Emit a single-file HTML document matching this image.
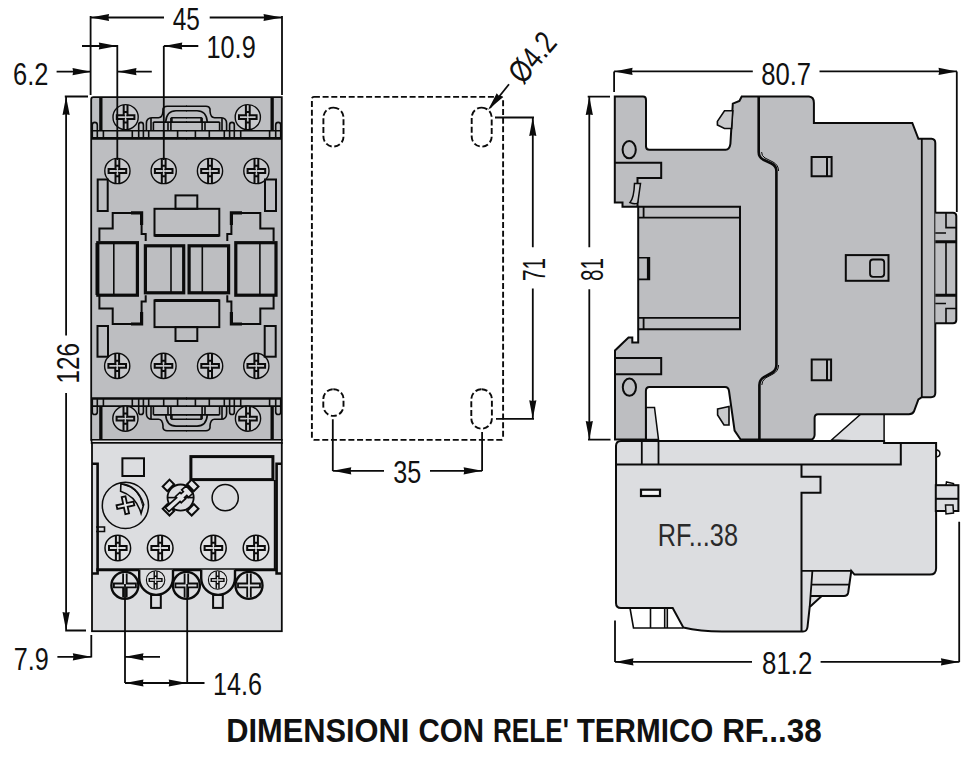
<!DOCTYPE html>
<html><head><meta charset="utf-8">
<style>
html,body{margin:0;padding:0;background:#fff;}
svg{display:block;}
text{font-family:"Liberation Sans",sans-serif;}
</style></head>
<body>
<svg width="975" height="778" viewBox="0 0 975 778">
<defs>
<g id="scr">
<circle r="12.6" fill="#c8c9cc" stroke="#0b0b0b" stroke-width="1.4"/>
<path d="M-1.9,-12.2 V-1.9 H-8.8 V1.9 H-1.9 V12.2 M1.9,-12.2 V-1.9 H8.8 V1.9 H1.9 V12.2 M-1.9,-5.2 H1.9 M-1.9,5.2 H1.9" fill="none" stroke="#0b0b0b" stroke-width="2"/>
<path d="M-1,-1 L-2.4,-2.4 M1,-1 L2.4,-2.4 M-1,1 L-2.4,2.4 M1,1 L2.4,2.4" stroke="#0b0b0b" stroke-width="1.2"/>
</g>
<g id="scr2">
<circle r="12.8" fill="#e0e1e3" stroke="#0b0b0b" stroke-width="1.5"/>
<path d="M-1.9,-12.2 V-1.9 H-8.8 V1.9 H-1.9 V12.2 M1.9,-12.2 V-1.9 H8.8 V1.9 H1.9 V12.2 M-1.9,-5.2 H1.9 M-1.9,5.2 H1.9" fill="none" stroke="#0b0b0b" stroke-width="2"/>
<path d="M-1,-1 L-2.4,-2.4 M1,-1 L2.4,-2.4 M-1,1 L-2.4,2.4 M1,1 L2.4,2.4" stroke="#0b0b0b" stroke-width="1.2"/>
</g>
<path id="ah" d="M0,0 L18.5,-3.6 L17.8,0 L18.5,3.6 Z" fill="#0b0b0b"/>
</defs>
<rect width="975" height="778" fill="#fff"/>

<!-- ================= FRONT VIEW ================= -->
<g id="front" stroke="#0b0b0b" fill="none">
<!-- relay body -->
<rect x="92" y="442.8" width="189.8" height="188.4" fill="#dcdde0" stroke-width="1.8"/>
<!-- contactor body -->
<path d="M91.2,439.9 V99.5 Q91.2,97.2 93.5,97.2 H281.8 V439.9 Z" fill="#bdbec1" stroke-width="1.8"/>
<path d="M92,441.4 H281" stroke="#e4e4e6" stroke-width="1.4"/><path d="M281.9,439 V444 M91.6,439 V444" stroke-width="1.6"/>

<!-- top terminal block half -->
<g id="tbh">
<path d="M91,130.8 H187" stroke-width="1.6"/>
<path d="M91,138.4 H187" stroke-width="2.6"/>
<rect x="99.2" y="97.5" width="3.3" height="33.3" fill="#0b0b0b" stroke="none"/>
<path d="M92.3,138 V124.7 Q92.3,122.4 94.8,122.4 Q97.3,122.4 97.3,125 V138" stroke-width="1.6"/>
<path d="M138.7,138 V124.7 Q138.7,122.4 141,122.4 Q143.4,122.4 143.4,125 V138" stroke-width="1.6"/>
<path d="M103.4,130.8 V138.4 M132.3,130.8 V138.4 M148.7,130.8 V138.4 M163.7,130.8 V138.4 M177.6,130.8 V138.4" stroke-width="1.6"/>
<path d="M146.4,131 V123.5 Q146.4,117.7 152,117.7 H158.5 Q162.5,117.7 163,111 V109 Q163.6,106.2 167,106.2 H187" stroke-width="1.6"/>
<path d="M165.7,122 Q166.5,110.8 176,110.8 H187" stroke-width="1.6"/>
<path d="M153.4,122.1 H187" stroke-width="1.8"/>
<path d="M171.9,122.1 V117.7 H187" stroke-width="1.6"/>
<path d="M151,117.7 V130.8 M153.4,122.1 V130.8 M168,122.1 V130.8 M170.9,117.7 V130.8" stroke-width="1.6"/>
</g>
<use href="#tbh" transform="translate(373,0) scale(-1,1)"/>
<g transform="translate(0,536.9) scale(1,-1)">
<use href="#tbh"/>
<use href="#tbh" transform="translate(373,0) scale(-1,1)"/>
</g>
<use href="#scr" transform="translate(125.6,117.2)"/>
<use href="#scr" transform="translate(247.8,117.2)"/>
<use href="#scr" transform="translate(125.4,418.6)"/>
<use href="#scr" transform="translate(248,418.6)"/>

<!-- screws rows -->
<use href="#scr" transform="translate(117.4,171)"/>
<use href="#scr" transform="translate(163.7,171)"/>
<use href="#scr" transform="translate(210,171)"/>
<use href="#scr" transform="translate(256.4,171)"/>
<use href="#scr" transform="translate(117.2,365.9)"/>
<use href="#scr" transform="translate(163.5,365.9)"/>
<use href="#scr" transform="translate(210.1,365.9)"/>
<use href="#scr" transform="translate(256.3,365.9)"/>

<!-- small vertical rects -->
<g stroke-width="2">
<rect x="97.7" y="179.5" width="10" height="31.5"/>
<rect x="265" y="179.5" width="11" height="31.5"/>
<rect x="97.5" y="326" width="10.5" height="30.7"/>
<rect x="264.7" y="326" width="11" height="30.7"/>
<!-- center rects -->
<rect x="175.5" y="195.4" width="21.8" height="13.4"/>
<rect x="154.5" y="208.8" width="64.8" height="26.8"/>
<rect x="154.5" y="300.4" width="64.8" height="26.7"/>
<rect x="175.5" y="327.1" width="21.8" height="13.9"/>
</g>
<path d="M154.5,235.6 H219.3 M154.5,300.4 H219.3" stroke-width="3"/>
<!-- armatures -->
<g stroke-width="2">
<path d="M99.4,241.1 V228.4 H112.7 V212.9 H141.6 V233.9 H145.7 V241.1"/>
<path d="M99.4,295.3 V308.5 H112.7 V324 H141.6 V301.4 H145.7 V295.3"/>
<path d="M273.6,241.1 V228.4 H260.3 V212.9 H231.4 V233.9 H227.3 V241.1"/>
<path d="M273.6,295.3 V308.5 H260.3 V324 H231.4 V301.4 H227.3 V295.3"/>
</g>
<path d="M131,212.9 H141.6 V225 M131,324 H141.6 V312 M242,212.9 H231.4 V225 M242,324 H231.4 V312" stroke-width="3.2"/>
<!-- big rects -->
<g stroke-width="3.2">
<rect x="97.8" y="242.7" width="39.6" height="52.5"/>
<rect x="145.4" y="245.8" width="38.3" height="47"/>
<rect x="189.1" y="245.8" width="39.5" height="47"/>
<rect x="235.8" y="242.7" width="40.2" height="52.5"/>
</g>
<path d="M96.3,243 V295 M113.8,242.7 V295.2 M171,245.8 V292.8 M202.3,245.8 V292.8 M259.9,242.7 V295.2" stroke-width="1.6"/>

<!-- ===== relay front details ===== -->
<g stroke-width="2">
<path d="M92,463.7 H97.6 V573.5 H92" stroke-width="2.6"/>
<path d="M281.8,463.7 H276.6 V573.5 H281.8" stroke-width="2.6"/><path d="M274.8,480 V570"/>
<rect x="122.4" y="458.3" width="21.6" height="17.7"/>
<path d="M96,527 H104.5 V531.5 H96" stroke-width="1.6"/>
</g>
<path d="M96.2,569.8 H276.7" stroke-width="3"/>
<rect x="190.9" y="456.6" width="82" height="23" stroke-width="3"/>
<circle cx="125.4" cy="505.4" r="23.1" stroke-width="1.5"/>
<path d="M120.9,483.9 Q137,485 143.7,504.4 L141.1,513.4 Q136,496 120.6,491.2 Z" stroke-width="1.6"/>
<path d="M123,484.6 Q139,487.5 142.8,506" stroke-width="1"/>
<g transform="translate(125.4,505.3) rotate(-12)">
<path d="M-1.9,-8.7 H1.9 V-1.9 H8.7 V1.9 H1.9 V8.7 H-1.9 V1.9 H-8.7 V-1.9 H-1.9 Z" stroke-width="1.8" fill="#e4e5e7"/>
</g>
<g transform="translate(180.6,497.6) rotate(45)">
<rect x="-4.8" y="-20.5" width="9.6" height="6.5" stroke-width="2" fill="#e4e5e7"/>
<rect x="-4.8" y="14" width="9.6" height="6.5" stroke-width="2" fill="#e4e5e7"/>
<rect x="-20.5" y="-4.8" width="6.5" height="9.6" stroke-width="2" fill="#e4e5e7"/>
<rect x="14" y="-4.8" width="6.5" height="9.6" stroke-width="2" fill="#e4e5e7"/>
</g>
<circle cx="180.6" cy="497.6" r="13.1" stroke-width="1.8" fill="#dcdde0"/>
<path d="M167.5,497.6 H193.7" stroke-width="1.6"/>
<g transform="translate(180.6,497.6) rotate(-42)">
<path d="M-18,-2.6 H-3 V-4.2 H3 V-2.6 H6 V-5 H12 V5 H6 V2.6 H3 V4.2 H-3 V2.6 H-18 Z" fill="#e4e5e7" stroke-width="1.7"/>
</g>
<circle cx="225.2" cy="497.7" r="13.1" stroke-width="1.5"/>
<use href="#scr2" transform="translate(117.8,548)"/>
<use href="#scr2" transform="translate(160.2,548)"/>
<use href="#scr2" transform="translate(213.4,548)"/>
<use href="#scr2" transform="translate(256,548)"/>

<!-- bottom terminals -->
<path d="M139.2,569.8 V578 A16.9,16.9 0 0 0 173,578 V569.8 M201.2,569.8 V578 A16.9,16.9 0 0 0 235,578 V569.8" stroke-width="2.4" fill="#dcdde0"/>
<rect x="151.1" y="595" width="9.7" height="12.9" stroke-width="2"/>
<rect x="213.1" y="595" width="9.7" height="12.9" stroke-width="2"/>
<g transform="translate(155.6,580) scale(0.72)"><use href="#scr2"/></g>
<g transform="translate(217.6,580) scale(0.72)"><use href="#scr2"/></g>
<g stroke-width="2.4">
<circle cx="124.9" cy="585.4" r="13.5" fill="#dcdde0"/>
<circle cx="186.4" cy="585.4" r="13.5" fill="#dcdde0"/>
<circle cx="249" cy="585.4" r="13.5" fill="#dcdde0"/>
</g>
<g transform="translate(124.9,585.4)"><path d="M-1.8,-12 V-1.9 H-11 V1.9 H-1.8 V12 M1.8,-12 V-1.9 H11 V1.9 H1.8 V12" stroke-width="1.8"/></g>
<g transform="translate(186.4,585.4)"><path d="M-1.8,-12 V-1.9 H-11 V1.9 H-1.8 V12 M1.8,-12 V-1.9 H11 V1.9 H1.8 V12" stroke-width="1.8"/></g>
<g transform="translate(249,585.4)"><path d="M-1.8,-12 V-1.9 H-11 V1.9 H-1.8 V12 M1.8,-12 V-1.9 H11 V1.9 H1.8 V12" stroke-width="1.8"/></g>
</g>

<!-- ================= SIDE VIEW ================= -->
<g id="side" stroke="#0b0b0b" fill="none" stroke-width="1.5">
<!-- relay part behind contactor -->
<path d="M831.5,440 L860.9,414 H884.1 V442 Z" fill="#dcdde0"/>
<!-- relay outline -->
<path d="M616,446 Q616,441 621,441 H884.1 V443 H936.1 V568.2 Q936.1,574.6 930,574.6 H854.5 L851.3,570.8 L848.2,592.5 Q847.5,596 844,596 H821.7 L809.7,606.9 L807.5,627 Q807,631.5 803,631.5 H722 Q700,631.5 683.3,627.5 L672.7,608 H621 Q616,608 616,603 Z" fill="#dcdde0" stroke-width="2"/>
<path d="M616,464.5 H900.8 V443" stroke-width="2"/>
<path d="M801.5,464.5 V476.7 H820.5 V492.8 H801.5 V631.5" stroke-width="2"/>
<path d="M801.5,570.8 H851.3 M811.3,584.7 H849 M811,596 H822 M812.4,570.8 L809.7,606.9" stroke-width="1.8"/>
<path d="M630,608 L633.5,628 H683.3 M650.5,608 V628 M664.7,608 V628 M667.3,608 V628" stroke-width="1.6"/>
<path d="M641.8,441 V464.5 M658.5,441 V464.5" stroke-width="1.8"/>
<rect x="641" y="489.7" width="19" height="6.3" stroke-width="2.2" fill="#f4f4f5"/>
<path d="M936.1,449.8 Q939.9,450.5 939.9,453.4 Q939.9,456.5 936.1,457" stroke-width="1.5"/>
<!-- relay side connector -->
<rect x="935.8" y="485.2" width="22.6" height="25.8" fill="#dcdde0" stroke-width="2"/>
<path d="M935.8,498.8 H958.4" stroke-width="2"/>
<path d="M946,485 L946.5,482 L953.5,483.5 V485.2" stroke-width="1.5"/>
<path d="M945.5,505 H953 L953.5,513 L946,514 Z" stroke-width="1.5" fill="#dcdde0"/>
<text x="657.8" y="546.3" font-size="31" fill="#2a2a2a" stroke="none" textLength="80.2" lengthAdjust="spacingAndGlyphs">RF...38</text>

<!-- light wedge in cutout -->
<path d="M645.9,407.5 H654.5 L658.5,439.6 H645.9 Z" fill="#dcdde0" stroke-width="1.5"/>

<!-- contactor side outline -->
<path d="M614.8,96.6 H643 Q646,96.6 646,100 V146.5 Q646,149.7 649.5,149.7 H725.7 Q729.5,149.7 730.4,143.8 L732.8,103.7 L739.4,100.9 L741.7,96.6 H809 Q813.9,97 813.9,103 V122.9 H912.3 L918.4,138.8 H931.5 Q935.3,139 935.3,143 V393 Q935.3,397.2 931,397.2 H921.8 L918.4,399.5 L913.9,411.5 Q912.5,414.2 909,414.2 H818 Q814.6,414.2 814.6,418 V435 Q814.3,439.6 810,439.6 H740.6 L734.6,430.6 L729,391 Q728.5,387 725,387 H649.5 Q645.9,387 645.9,391 V439.6 H615 V350.5 L628.5,337.6 H632.3 V342.6 H638.2 V206.8 H622.5 V202.6 H614.8 Z" fill="#bdbec1" stroke-width="2"/>
<!-- upper-left tab details -->
<ellipse cx="629.2" cy="149.7" rx="6.6" ry="8.6" stroke-width="2"/>
<path d="M615,162.8 H661.2 V178 H637.5 V206.8" stroke-width="2"/>
<path d="M634.5,183.5 H640.5 L637.8,202.6 Q636,205 630,202.6 Q634,198 634.5,183.5 Z" stroke-width="1.5" fill="#c9cacc"/>
<!-- lower-left tab details -->
<ellipse cx="629.4" cy="387.2" rx="6.6" ry="8.6" stroke-width="2"/>
<path d="M615,357.9 H661.2 V374.2 H615" stroke-width="2"/>
<!-- upper slope tab -->
<path d="M717.4,121.4 L724.5,110.8 H732.8 L731.6,128.5 H724.5 L717.4,125 Z" stroke-width="1.6" fill="#c9cacc"/>
<!-- lower slope tab -->
<path d="M717.6,409 L729,406.4 V425 H724 L717.6,415 Z" stroke-width="1.6" fill="#c9cacc"/>
<!-- coil block -->
<path d="M638.2,206.8 H740 V329.2 H638.2" stroke-width="2"/>
<path d="M638.2,217.7 H740 M638.2,317.9 H740 M643.6,206.8 V217.7 M643.6,317.9 V329.2" stroke-width="1.8"/>
<path d="M638.2,257.8 H649.4 V279.4 H638.2" stroke-width="1.6"/>
<path d="M648.4,258 V279.4" stroke-width="3"/>
<!-- divider -->
<path d="M758.7,96.6 V152 Q758.7,157 763,159.5 L771.5,163.5 Q776.4,166 776.4,171 V365 Q776.4,370.5 771.5,373 L764,377 Q759.4,380 759.4,385 V439.6" stroke-width="2.6"/>
<path d="M761.6,152 Q761.6,156 765,158 L773,162 Q778.6,165 778.6,171" stroke-width="1"/>
<path d="M778.6,365 Q778.6,371 773,374 L765.5,378 Q761.8,381 761.8,385" stroke-width="1"/>
<!-- small squares -->
<path d="M811.6,156.9 H831.6 V176.2 H811.6 Z M827,156.9 V176.2" stroke-width="2"/>
<path d="M811.7,359.6 H831.1 V380.3 H811.7 Z M827,359.6 V380.3" stroke-width="2"/>
<rect x="845.8" y="255.1" width="42.7" height="25.7" stroke-width="2"/>
<rect x="870" y="259.5" width="14.2" height="17.3" rx="3" stroke-width="1.8"/>
<!-- strip line -->
<path d="M921.8,138.8 V397.2" stroke-width="1.8"/>
<!-- side connector -->
<path d="M935.3,212.8 H953 Q956.3,213 956.3,216 V320 Q956.3,323.2 953,323.2 H935.3" fill="#bdbec1" stroke-width="2"/>
<path d="M935.3,241.7 H956.3 M935.3,295.2 H956.3" stroke-width="3"/>
<path d="M946,241.7 V295.2 M946,212.8 V227.6 H956 M935.3,233 H946 M946,323.2 V308.5 H956 M935.3,303.5 H946" stroke-width="1.6"/>
</g>

<!-- ================= DIMENSIONS (left) ================= -->
<g stroke="#0b0b0b" stroke-width="1.8" fill="none">
<!-- 45 -->
<path d="M90.6,16 V95 M282,16 V95 M90.6,17.5 H164 M209.7,17.5 H282"/>
<!-- 10.9 -->
<path d="M82,46 H117.3 V160 M163.8,46 H198.3 M163.8,46 V160"/>
<!-- 6.2 -->
<path d="M56.6,71.7 H91 M118,71.7 H151.8"/>
<!-- 126 -->
<path d="M64.8,96.5 H88 M66.1,96.5 V335.4 M66.1,393 V630.5 H86"/>
<!-- 7.9 -->
<path d="M91.3,635 V657.5 M57.4,656.8 H91.3"/>
<!-- 14.6 -->
<path d="M125,584 V683 M187.2,584 V683 M125,656.8 H160 M125,683 H204.5"/>
</g>
<g>
<use href="#ah" transform="translate(90.6,17.5)"/>
<use href="#ah" transform="translate(282,17.5) rotate(180)"/>
<use href="#ah" transform="translate(163.8,46)"/>
<use href="#ah" transform="translate(117.3,46) rotate(180)"/>
<use href="#ah" transform="translate(91,71.7) rotate(180)"/>
<use href="#ah" transform="translate(118,71.7)"/>
<use href="#ah" transform="translate(66.1,96.5) rotate(90)"/>
<use href="#ah" transform="translate(66.1,630.5) rotate(-90)"/>
<use href="#ah" transform="translate(91.3,656.8) rotate(180)"/>
<use href="#ah" transform="translate(125,656.8)"/>
<use href="#ah" transform="translate(125,683)"/>
<use href="#ah" transform="translate(187.2,683) rotate(180)"/>
</g>

<!-- ================= MIDDLE: mounting ================= -->
<g stroke="#0b0b0b" stroke-width="1.9" fill="none" stroke-dasharray="6 2.7">
<rect x="311.9" y="96.9" width="191.2" height="343" rx="2"/>
<rect x="323.4" y="107.6" width="20.1" height="39" rx="10"/>
<rect x="471.7" y="107.6" width="20" height="39" rx="10"/>
<rect x="323.3" y="389.2" width="20.2" height="26.7" rx="10"/>
<rect x="471.3" y="389.2" width="20.6" height="39.5" rx="10.3"/>
</g>
<g stroke="#0b0b0b" stroke-width="1.8" fill="none">
<path d="M495,117.5 H534 M532.8,117.5 V247.3 M532.8,288.6 V418.8 M496,418.8 H534"/>
<path d="M332.8,419.3 V471 M482.1,431.9 V471 M332.8,470.8 H384 M430,470.8 H482.1"/>
<path d="M490,108 L509,84.2"/>
</g>
<g>
<use href="#ah" transform="translate(532.8,117.5) rotate(90)"/>
<use href="#ah" transform="translate(532.8,418.8) rotate(-90)"/>
<use href="#ah" transform="translate(332.8,470.8)"/>
<use href="#ah" transform="translate(482.1,470.8) rotate(180)"/>
<use href="#ah" transform="translate(488,110) rotate(-51.5)"/>
</g>

<!-- ================= RIGHT DIMS ================= -->
<g stroke="#0b0b0b" stroke-width="1.8" fill="none">
<path d="M614.1,71.4 V92 M614.1,71.4 H752.8 M819.5,71.4 H957 M956.8,71.4 V212"/>
<path d="M587.7,96.6 H610 M589.3,96.6 V247.3 M589.3,289.2 V439.6 M588,439.6 H610.5"/>
<path d="M615,620.5 V662 M615,661.9 H752 M820.6,661.9 H959.4 M959.2,662 V521.7"/>
</g>
<g>
<use href="#ah" transform="translate(614.1,71.4)"/>
<use href="#ah" transform="translate(957,71.4) rotate(180)"/>
<use href="#ah" transform="translate(589.3,96.6) rotate(90)"/>
<use href="#ah" transform="translate(589.3,439.6) rotate(-90)"/>
<use href="#ah" transform="translate(615,661.9)"/>
<use href="#ah" transform="translate(959.4,661.9) rotate(180)"/>
</g>

<!-- ================= TEXT ================= -->
<g fill="#111" font-size="31">
<text x="172.8" y="30.4" textLength="27.1" lengthAdjust="spacingAndGlyphs">45</text>
<text x="206.5" y="58.3" textLength="49.2" lengthAdjust="spacingAndGlyphs">10.9</text>
<text x="13" y="85" textLength="35.4" lengthAdjust="spacingAndGlyphs">6.2</text>
<text x="13.8" y="670" textLength="35" lengthAdjust="spacingAndGlyphs">7.9</text>
<text x="213" y="695" textLength="49" lengthAdjust="spacingAndGlyphs">14.6</text>
<text x="393.3" y="482.8" textLength="28" lengthAdjust="spacingAndGlyphs">35</text>
<text x="761.2" y="84.6" textLength="49.9" lengthAdjust="spacingAndGlyphs">80.7</text>
<text x="762.1" y="674" textLength="50.2" lengthAdjust="spacingAndGlyphs">81.2</text>
<text transform="translate(79.2,383.6) rotate(-90)" textLength="40.6" lengthAdjust="spacingAndGlyphs">126</text>
<text transform="translate(544.8,281) rotate(-90)" textLength="23" lengthAdjust="spacingAndGlyphs">71</text>
<text transform="translate(602.7,281) rotate(-90)" textLength="23" lengthAdjust="spacingAndGlyphs">81</text>
<text transform="translate(523,85.5) rotate(-50)" textLength="55" font-size="32" lengthAdjust="spacingAndGlyphs">Ø4.2</text>
</g>
<g font-size="33.6" font-weight="bold" fill="#111"><text x="226.2" y="741.8" textLength="183.2" lengthAdjust="spacingAndGlyphs">DIMENSIONI</text><text x="418.5" y="741.8" textLength="65.5" lengthAdjust="spacingAndGlyphs">CON</text><text x="493" y="741.8" textLength="75.9" lengthAdjust="spacingAndGlyphs">RELE'</text><text x="576.7" y="741.8" textLength="136.7" lengthAdjust="spacingAndGlyphs">TERMICO</text><text x="722.2" y="741.8" textLength="99.5" lengthAdjust="spacingAndGlyphs">RF...38</text></g>

</svg>
</body></html>
